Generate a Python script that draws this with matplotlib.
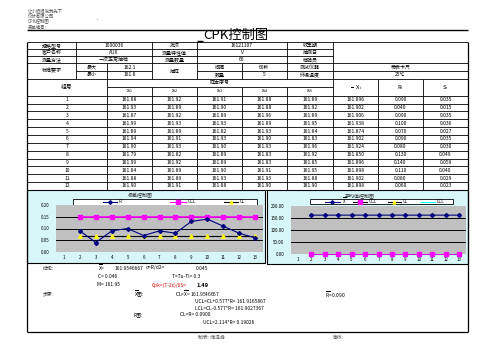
import matplotlib
matplotlib.use('Agg')
import matplotlib.pyplot as plt
from matplotlib.patches import Rectangle
import numpy as np

plt.rcParams['font.family'] = ['Noto Sans CJK SC', 'DejaVu Sans']

# ---------------- data ----------------
groups = list(range(1, 13))
x_i1 = [161.88, 161.93, 161.87, 161.99, 161.89, 161.94, 161.90, 161.79, 161.99, 161.84, 161.88, 161.90]
x_i2 = [161.92, 161.89, 161.92, 161.93, 161.89, 161.91, 161.93, 161.82, 161.92, 161.89, 161.89, 161.91]
x_i3 = [161.91, 161.90, 161.89, 161.93, 161.82, 161.93, 161.90, 161.89, 161.89, 161.90, 161.93, 161.88]
x_i4 = [161.88, 161.88, 161.96, 161.89, 161.93, 161.90, 161.93, 161.83, 161.83, 161.91, 161.93, 161.90]
x_i5 = [161.89, 161.92, 161.89, 161.95, 161.84, 161.83, 161.96, 161.92, 161.85, 161.95, 161.88, 161.90]
xbar = [161.896, 161.902, 161.906, 161.938, 161.874, 161.902, 161.924, 161.850, 161.896, 161.898, 161.902, 161.898]
r_vals = [0.090, 0.040, 0.090, 0.100, 0.070, 0.090, 0.080, 0.130, 0.140, 0.110, 0.080, 0.060]
s_vals = [0.035, 0.015, 0.035, 0.036, 0.027, 0.035, 0.030, 0.049, 0.059, 0.040, 0.029, 0.023]
r_ucl = [0.15] * 12
r_cl = [0.067] * 12
x_ucl = [0.0] * 12
x_cl = [0.0] * 12
x_lcl = [0.0] * 12
chart_cats = list(range(1, 14))
r_ticks = [0.00, 0.05, 0.10, 0.15, 0.20]
x_ticks = [0.0, 50.0, 100.0, 150.0, 200.0]

W, H = 503, 356
fig = plt.figure(figsize=(W / 100, H / 100), dpi=100)
bg = fig.add_axes([0, 0, 1, 1])
bg.set_xlim(0, W)
bg.set_ylim(H, 0)
bg.axis('off')

LW = 0.6
FS = 3.6


def hl(y, x0, x1, lw=LW):
    bg.plot([x0, x1], [y, y], color='black', lw=lw, solid_capstyle='butt')


def vl(x, y0, y1, lw=LW):
    bg.plot([x, x], [y0, y1], color='black', lw=lw, solid_capstyle='butt')


def t(x, y, s, fs=FS, ha='center', va='center', **kw):
    bg.text(x, y, s, fontsize=fs, ha=ha, va=va, **kw)


# ---------------- header ----------------
t(28, 10.5, '让小姐姐说我先下', fs=3.2, ha='left', color='#555555')
t(28, 15.8, '仪仗有限公司', fs=3.2, ha='left', color='#555555')
t(28, 21.2, 'CPK控制图', fs=3.2, ha='left', color='#555555')
t(28, 27, '表单编号:', fs=3.2, ha='left', color='#555555')
t(97, 18, '.', fs=4, color='black')
hl(29.5, 27, 468, lw=1.0)
t(236, 35.8, 'CPK控制图', fs=9.5)
hl(41.2, 197, 203, lw=1.0)

# ---------------- table ----------------
L, R = 27, 468
top = 41.7
r1, r2, r3 = 49.0, 56.2, 63.3
r4 = 71.0
r5 = 79.0
r6 = 86.7
r7 = 95.7
rowh = 7.85
tab_bot = r7 + 12 * rowh

hl(top, L, R)
hl(r1, L, 333)
hl(r2, L, 333)
hl(r3, L, R)
hl(r4, 76, 152)
hl(r4, 197, R)
hl(r5, L, R)
hl(r6, 107, 333)
hl(r7, L, R)
for k in range(1, 13):
    hl(r7 + k * rowh, L, R)

for x in [76, 152, 197, 287, 333]:
    vl(x, top, r3)
for x in [76, 107, 152, 197, 242, 287, 333]:
    vl(x, r3, r5)
for x in [107, 333, 378, 423]:
    vl(x, r5, tab_bot)
for x in [152, 197, 242, 287]:
    vl(x, r6, tab_bot)

# outer page border
vl(L, top, 332, lw=0.9)
vl(R, top, 332, lw=0.9)
hl(332, L, R, lw=0.9)

rows13 = [
    ['规格型号', '1000036', '批次', '16121107', '收集期'],
    ['客户名称', 'AUX', '测量特性值', 'V', '抽测日'],
    ['测量方法', '一次正常抽检', '测量数量', '60', '检验员'],
]
cx13 = [(27 + 76) / 2, (76 + 152) / 2, (152 + 197) / 2, (197 + 287) / 2, (287 + 333) / 2]
for yy, row in zip([(top + r1) / 2, (r1 + r2) / 2, (r2 + r3) / 2], rows13):
    for cx, s in zip(cx13, row):
        t(cx, yy, s)

t((27 + 76) / 2, (r3 + r5) / 2, '标准要求')
t((152 + 197) / 2, (r3 + r5) / 2, '抽样')
ya, yb = (r3 + r4) / 2, (r4 + r5) / 2
for cx, sa, sb in [((76 + 107) / 2, '最大', '最小'), ((107 + 152) / 2, '162.1', '161.8'),
                   ((197 + 242) / 2, '间隔', '数量'), ((242 + 287) / 2, '60秒', '5'),
                   ((287 + 333) / 2, '测试仪器', '环境温度'), ((333 + 468) / 2, '带表卡尺', '25℃')]:
    t(cx, ya, sa)
    t(cx, yb, sb)

t((27 + 107) / 2, (r5 + r7) / 2, '组号', fs=4.2)
t((107 + 333) / 2, (r5 + r6) / 2, '样本序号')
for i, cx in enumerate([129.5, 174.5, 219.5, 264.5, 310]):
    t(cx, (r6 + r7) / 2, r'$\mathregular{x_{i%d}}$' % (i + 1), fs=3.6)
t(355.5, (r5 + r7) / 2, r'$\mathregular{\overline{\ }\ \ X_i}$', fs=4.2)
t(400.5, (r5 + r7) / 2, r'$\mathregular{R_i}$', fs=4.2)
t(445.5, (r5 + r7) / 2, r'$\mathregular{S_i}$', fs=4.2)

col_cx = [67, 129.5, 174.5, 219.5, 264.5, 310, 355.5, 400.5, 445.5]
for k in range(12):
    yy = r7 + (k + 0.5) * rowh
    vals = [str(groups[k]), '%.2f' % x_i1[k], '%.2f' % x_i2[k], '%.2f' % x_i3[k],
            '%.2f' % x_i4[k], '%.2f' % x_i5[k], '%.3f' % xbar[k], '%.3f' % r_vals[k], '%.3f' % s_vals[k]]
    for cx, s in zip(col_cx, vals):
        t(cx, yy, s)

# ---------------- chart boxes ----------------
CHART_BG = '#D6F6F8'
bg.add_patch(Rectangle((27, 190), 238, 73, facecolor=CHART_BG, edgecolor='black', lw=0.8))
bg.add_patch(Rectangle((267, 190), 201, 74, facecolor=CHART_BG, edgecolor='black', lw=0.8))


def px_axes(x0, y0, x1, y1):
    return fig.add_axes([x0 / W, 1 - y1 / H, (x1 - x0) / W, (y1 - y0) / H])


def style_axes(ax, ylim, yticks, fmt):
    ax.set_facecolor('#C0C0C0')
    ax.set_xlim(0.5, 13.5)
    ax.set_ylim(*ylim)
    for sp in ax.spines.values():
        sp.set_visible(False)
    ax.set_yticks(yticks)
    ax.set_yticklabels([fmt % v for v in yticks], fontsize=3.2)
    ax.set_xticks(chart_cats)
    ax.set_xticklabels([str(c) for c in chart_cats], fontsize=3.2)
    ax.tick_params(axis='y', length=0, pad=5)
    ax.tick_params(axis='x', length=0, pad=2.5)
    for v in yticks[1:-1]:
        ax.axhline(v, color='black', lw=0.7, zorder=1)


xs = np.arange(2, 14)

# range chart
axr = px_axes(56, 205, 263, 252)
style_axes(axr, (0, 0.2), r_ticks, '%.2f')
axr.plot(xs, r_ucl, color='#FF00FF', lw=1.2, marker='s', ms=2.6, zorder=3, clip_on=False)
axr.plot(xs, r_cl, color='black', lw=0.8, marker='^', ms=2.6, mfc='#FFFF00', mec='#FFFF00', zorder=3, clip_on=False)
axr.plot(xs, r_vals, color='#000080', lw=0.8, marker='D', ms=2.0, zorder=4, clip_on=False)
t(140, 195.5, '极差控制图', fs=3.6, color='#333333')

# mean chart
axx = px_axes(291, 206, 466, 254)
style_axes(axx, (0, 200), x_ticks, '%.2f')
axx.plot(xs, x_lcl, color='#00FFFF', lw=0.8, zorder=3, clip_on=False)
axx.plot(xs, x_cl, color='black', lw=0.6, marker='^', ms=2.2, mfc='#FFFF00', mec='#FFFF00', zorder=3, clip_on=False)
axx.plot(xs, x_ucl, color='#FF00FF', lw=0.6, marker='s', ms=2.2, zorder=3, clip_on=False)
axx.plot(xs, xbar, color='#000080', lw=0.8, marker='D', ms=2.0, zorder=4, clip_on=False)
t(360, 195.5, '平均值控制图', fs=3.6, color='#333333')


# legends (drawn manually)
def leg_entry(x0, x1, y, color, marker, mfc, label, lc=None, ms=2.2):
    bg.plot([x0, x1], [y, y], color=lc or color, lw=0.8)
    if marker:
        bg.plot([(x0 + x1) / 2], [y], marker=marker, ms=ms, color=mfc, mec=mfc, lw=0)
    t(x1 + 2, y, label, fs=3.2, ha='left')


bg.add_patch(Rectangle((73, 199), 184, 5.5, facecolor='white', edgecolor='black', lw=0.6))
leg_entry(103, 117, 201.75, '#000080', 'D', '#000080', 'R', ms=1.8)
leg_entry(170, 186, 201.75, '#FF00FF', 's', '#FF00FF', 'UCL')
leg_entry(224, 238, 201.75, 'black', '^', '#FFFF00', 'CL')

bg.add_patch(Rectangle((310, 199), 143, 5.0, facecolor='white', edgecolor='black', lw=0.6))
leg_entry(325, 340, 201.5, '#000080', 'D', '#000080', r'$\mathregular{\overline{X}}$', ms=1.8)
leg_entry(353, 367, 201.5, 'black', 's', '#FF00FF', 'UCL')
leg_entry(388, 401, 201.5, 'black', '^', '#FFFF00', 'CL')
leg_entry(421, 435, 201.5, '#00FFFF', None, None, 'LCL')

# ---------------- conclusions ----------------
FS2 = 3.5
t(43, 268, '结论:', fs=FS2, ha='left', color='#333333')
t(98, 268, r'$\mathregular{\overline{X}}$=', fs=FS2, ha='left')
t(115, 268, '161.9546667', fs=FS2, ha='left')
t(146, 268, 'σ=R/d2=', fs=FS2, ha='left')
t(196, 268, '0.045', fs=FS2, ha='left')
t(98, 277, 'C= 0.046', fs=FS2, ha='left')
t(172, 276.5, 'T=Tu-Tl= 0.3', fs=FS2, ha='left')
t(97, 285, 'M= 161.95', fs=FS2, ha='left')
t(152, 285, 'Cpk=(T-2ε)/6S=', fs=FS2, ha='left', color='#E00000')
t(197, 285.5, '1.49', fs=4.2, ha='left', fontweight='bold')
t(43, 294, '步骤:', fs=FS2, ha='left', color='#333333')
t(134, 294, r'$\mathregular{\overline{X}}$图:', fs=FS2, ha='left')
t(175, 294, r'CL=$\mathregular{\overline{X}}$= 161.9546667', fs=FS2, ha='left')
t(325, 295, r'$\mathregular{\overline{R}}$= 0.090', fs=FS2, ha='left')
t(195, 301.5, 'UCL=CL+0.577*R= 161.9165867', fs=FS2, ha='left')
t(195, 308, 'LCL=CL-0.577*R= 161.9027367', fs=FS2, ha='left')
t(134, 315, 'R图:', fs=FS2, ha='left')
t(180, 315, 'CL=R= 0.0900', fs=FS2, ha='left')
t(203, 323, 'UCL=2.114*R= 0.19026', fs=FS2, ha='left')

t(198, 337.5, '制表: 缩泽峰', fs=FS2, ha='left', color='#555555')
t(333, 337.5, '审核:', fs=FS2, ha='left', color='#555555')

fig.savefig('out.png', dpi=100)
